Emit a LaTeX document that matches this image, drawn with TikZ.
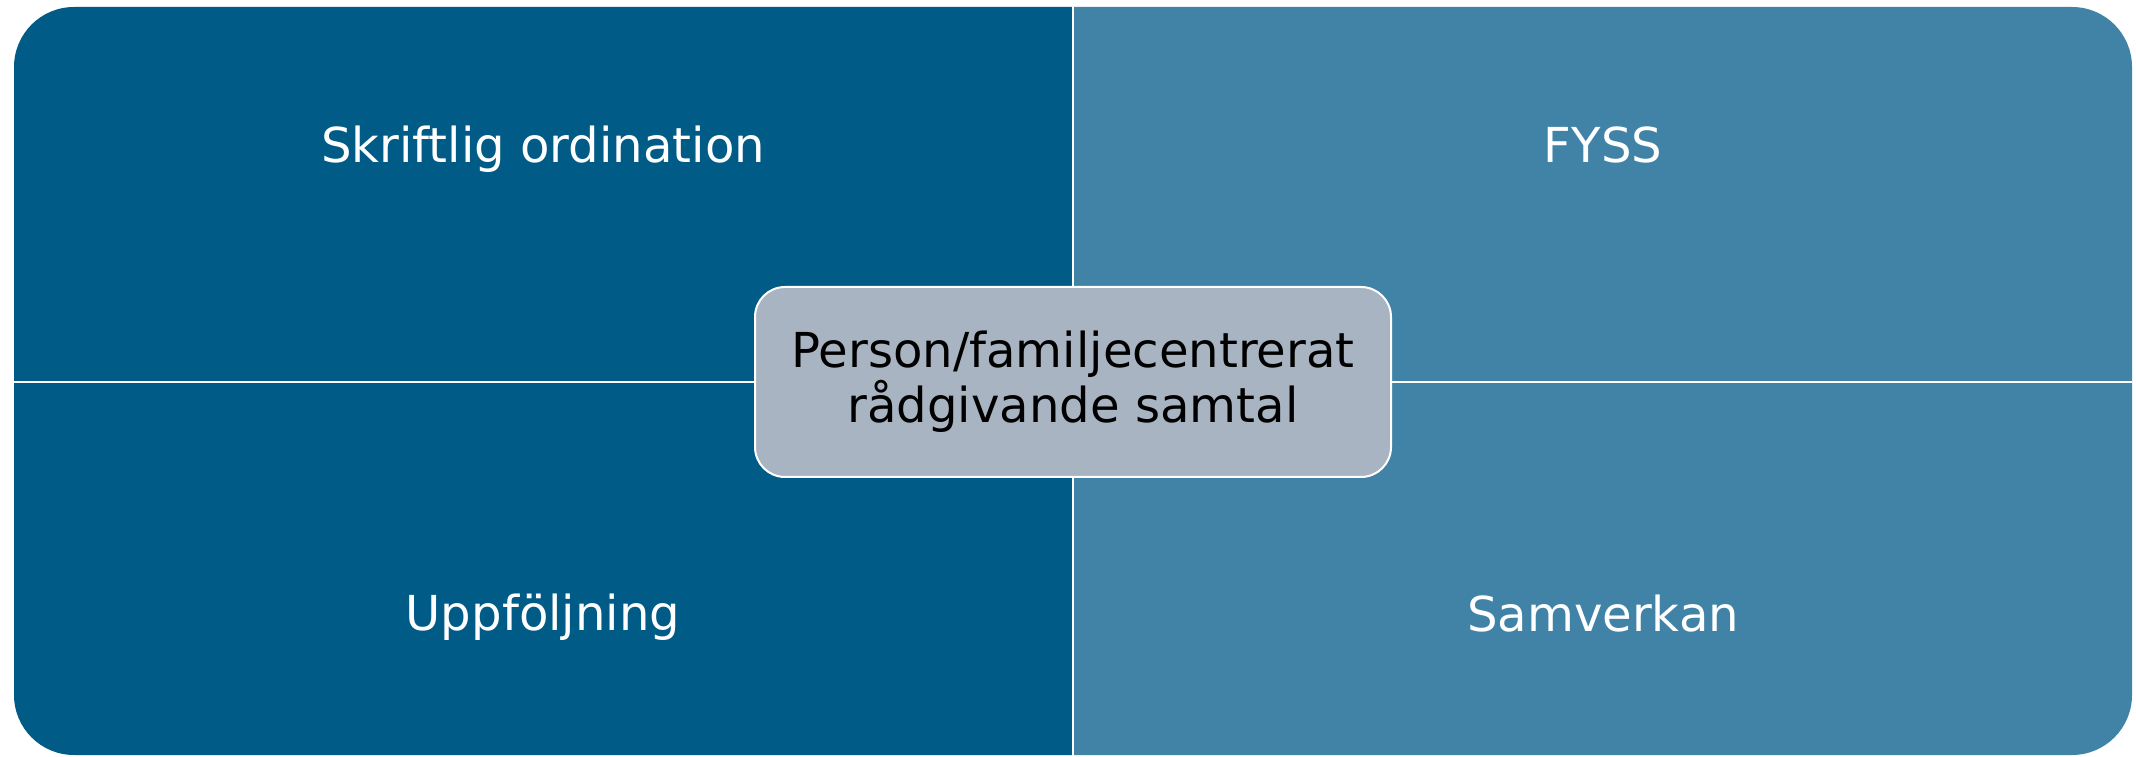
\documentclass[tikz,border=0pt]{standalone}
\usepackage{fontspec}
\setmainfont{DejaVu Sans}
\definecolor{quaddark}{RGB}{0,91,135}
\definecolor{quadlight}{RGB}{65,131,166}
\definecolor{hubgray}{RGB}{169,180,195}

\begin{document}
\begin{tikzpicture}
\useasboundingbox (0,0) rectangle (21.36,7.56);
\tikzset{quadlabel/.style={white, anchor=base, font=\fontsize{13.7}{16}\selectfont}}
\begin{scope}
\clip[rounded corners=0.6cm] (0.14,0.01) rectangle (21.32,7.49);
\fill[quaddark] (0,0) rectangle (10.73,7.56);
\fill[quadlight] (10.73,0) rectangle (21.36,7.56);
\end{scope}
\draw[white, line width=0.02cm] (10.73,0) -- (10.73,7.56);
\draw[white, line width=0.02cm] (0.14,3.74) -- (21.32,3.74);
\node[quadlabel] (ordination) at (5.43,5.93) {Skriftlig ordination};
\node[quadlabel] (fyss) at (16.03,5.93) {FYSS};
\node[quadlabel] (uppfoljning) at (5.43,1.26) {Uppföljning};
\node[quadlabel] (samverkan) at (16.03,1.25) {Samverkan};
\node[fill=hubgray, draw=white, line width=0.02cm, rounded corners=0.3cm, minimum width=6.36cm, minimum height=1.90cm, align=center, font=\fontsize{13.7}{15.6}\selectfont, inner sep=0pt] (samtal) at (10.73,3.74) {Person/familjecentrerat\\rådgivande samtal};
\end{tikzpicture}
\end{document}
